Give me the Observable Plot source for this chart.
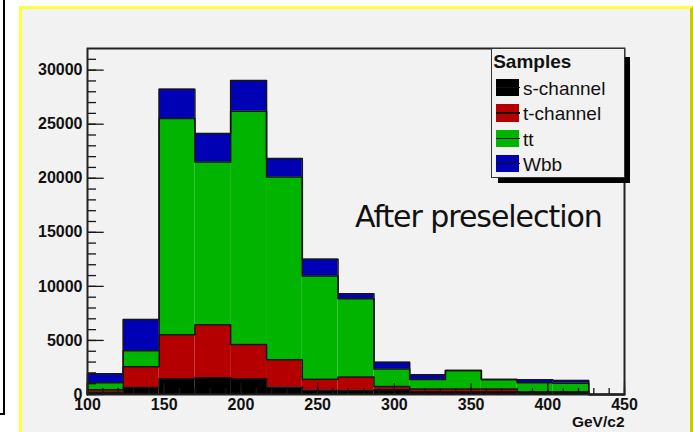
<!DOCTYPE html>
<html><head><meta charset="utf-8">
<script src="https://cdn.jsdelivr.net/npm/d3@7"></script>
<script src="https://cdn.jsdelivr.net/npm/@observablehq/plot@0.6"></script>
<style>
html,body{margin:0;padding:0;background:#fff;}
body{width:693px;height:432px;position:relative;overflow:hidden;font-family:"Liberation Sans",Arial,sans-serif;}
#edge{position:absolute;left:-20px;top:-20px;width:25.3px;height:435.3px;box-sizing:border-box;border-right:2px solid #000;border-bottom:2px solid #000;}
#pad{position:absolute;left:19px;top:6px;width:674px;height:440px;box-sizing:border-box;background:#f2f2f2;border-top:3px solid #ffff3a;border-left:3px solid #ffff3a;border-right:3px solid #c8c800;}
#chart{position:absolute;left:0;top:0;}
#chart svg{overflow:visible;}
#note{position:absolute;left:355px;top:201.5px;font-family:"DejaVu Sans",sans-serif;font-size:30px;line-height:30px;letter-spacing:-1.05px;color:#111;white-space:nowrap;}
#shadow{position:absolute;left:498px;top:56.5px;width:131.5px;height:126.3px;background:#000;}
#legend{position:absolute;left:491px;top:48px;width:134px;height:130.3px;box-sizing:border-box;border:1.3px solid #333;background:#f2f2f2;}
.lt{position:absolute;font-family:"Liberation Sans",Arial,sans-serif;font-size:19px;line-height:19px;color:#111;white-space:nowrap;}
.sw{position:absolute;width:23px;height:17.5px;}
.sl{position:absolute;height:1.5px;background:#111;}
</style></head>
<body>
<div id="edge"></div>
<div id="pad"></div>
<div id="chart"></div>
<div id="note">After preselection</div>
<div id="shadow"></div>
<div id="legend"></div>
<script>
const binEdges = [100, 123.3, 146.7, 170, 193.3, 216.7, 240, 263.3, 286.7, 310, 333.3, 356.7, 380, 403.3, 426.7, 450];
const samples = ["s-channel", "t-channel", "tt", "Wbb"];
const colors = ["#000000", "#b40000", "#00b400", "#0000b4"];
const sChannel = [200, 650, 1450, 1540, 1450, 680, 400, 380, 430, 250, 250, 250, 250, 250, 0];
const tChannel = [230, 1910, 4070, 4910, 3180, 2530, 1000, 1240, 310, 270, 270, 270, 0, 0, 0];
const ttbar    = [650, 1480, 20000, 15060, 21570, 16910, 9550, 7240, 1610, 870, 1690, 870, 830, 800, 0];
const wbb      = [830, 2900, 2720, 2630, 2840, 1700, 1570, 460, 630, 440, 0, 0, 280, 250, 0];
const xTicks = [100, 150, 200, 250, 300, 350, 400, 450];
const yTicks = [0, 5000, 10000, 15000, 20000, 25000, 30000];
const xLabel = "GeV/c2";
const noteText = "After preselection";

const series = [sChannel, tChannel, ttbar, wbb];
const rects = [];
const outline = [];
const base = new Array(binEdges.length - 1).fill(0);
series.forEach((vals, si) => {
  const name = samples[si];
  const tops = [];
  vals.forEach((v, i) => {
    const y1 = base[i], y2 = base[i] + v;
    if (v > 0) rects.push({sample: name, x1: binEdges[i], x2: binEdges[i + 1], y1, y2});
    tops.push(y2);
    base[i] = y2;
  });
  outline.push({sample: name, x: binEdges[0], y: 0});
  tops.forEach((t, i) => outline.push({sample: name, x: binEdges[i], y: t}));
  outline.push({sample: name, x: binEdges[binEdges.length - 1], y: 0});
});

const W = 693, H = 432, mL = 87, mR = 69, mT = 48, mB = 38;
const PW = W - mL - mR, PH = H - mT - mB;
const minorX = d3.range(100, 451, 10);
const minorY = d3.range(0, 32000, 1000);

const plot = Plot.plot({
  width: W, height: H,
  marginLeft: mL, marginRight: mR, marginTop: mT, marginBottom: mB,
  x: {domain: [100, 450]},
  y: {domain: [0, 32000]},
  color: {domain: samples, range: colors},
  style: {background: "transparent", fontFamily: "'Liberation Sans', Arial, sans-serif", fontSize: "16px", fontWeight: "bold", color: "#111"},
  marks: [
    Plot.rect(rects, {x1: "x1", x2: "x2", y1: "y1", y2: "y2", fill: "sample"}),
    Plot.line(outline, {x: "x", y: "y", z: "sample", curve: "step-after", stroke: "#161616", strokeWidth: 1.5}),
    Plot.ruleX(minorX, {x: d => d, insetTop: PH - 6, stroke: "#161616", strokeWidth: 1.3}),
    Plot.ruleX(xTicks, {x: d => d, insetTop: PH - 11, stroke: "#161616", strokeWidth: 1.3}),
    Plot.ruleY(minorY, {y: d => d, insetRight: PW - 9, stroke: "#161616", strokeWidth: 1.3}),
    Plot.ruleY(yTicks, {y: d => d, insetRight: PW - 16.7, stroke: "#161616", strokeWidth: 1.3}),
    Plot.frame({stroke: "#222", strokeWidth: 2}),
    Plot.axisX(xTicks, {tickSize: 0, tickPadding: 4, label: null, tickFormat: d => String(d)}),
    Plot.axisY(yTicks, {tickSize: 0, tickPadding: 5, label: null, tickFormat: d => String(d)}),
    Plot.text([xLabel], {frameAnchor: "bottom-right", text: d => d, textAnchor: "end", lineAnchor: "top", dy: 21.5, fontSize: 15.5, fontWeight: "bold", fill: "#111"})
  ]
});
document.getElementById("chart").appendChild(plot);

// legend
const leg = document.getElementById("legend");
const L0 = 491, T0 = 48;
function abs(el, x, y) { el.style.left = (x - L0 - 1.3) + "px"; el.style.top = (y - T0 - 1.3) + "px"; }
const title = document.createElement("div");
title.className = "lt"; title.style.fontWeight = "bold"; title.textContent = "Samples";
abs(title, 493.5, 52.2); leg.appendChild(title);
samples.forEach((s, i) => {
  const sy = 79 + i * 25.4;
  const sw = document.createElement("div");
  sw.className = "sw"; sw.style.background = colors[i]; abs(sw, 496, sy); leg.appendChild(sw);
  const ln = document.createElement("div");
  ln.className = "sl"; ln.style.width = "24px"; abs(ln, 496, sy + 8); leg.appendChild(ln);
  const tx = document.createElement("div");
  tx.className = "lt"; tx.textContent = s; abs(tx, 523.3, sy + 0.2); leg.appendChild(tx);
});
</script>
</body></html>
